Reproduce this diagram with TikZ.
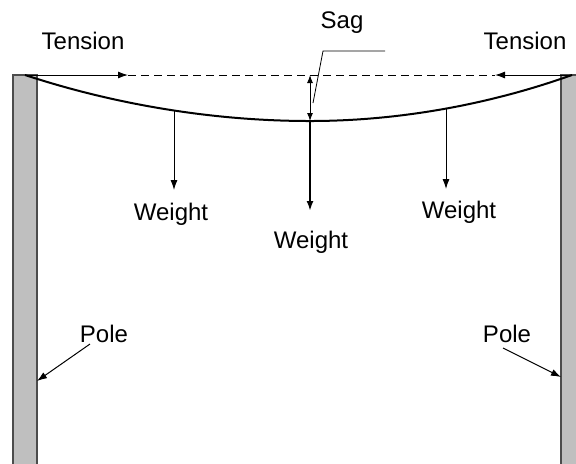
\documentclass[tikz,border=0pt]{standalone}
\usepackage{fontspec}
\setmainfont{Liberation Sans}
\usepackage{tikz}
\usetikzlibrary{arrows.meta}
\tikzset{
    >={Latex[length=5pt,width=3.5pt]}, % filled arrow heads
    pole/.style={fill=black!25, draw=black!70, line width=0.6pt}, % the two poles
    cable/.style={line width=1pt}, % the hanging conductor
    force/.style={->, line width=0.5pt}, % thin arrows
    label/.style={inner sep=0pt, anchor=base, font=\fontsize{12}{14}\selectfont}, % texts
}
\begin{document}
\begin{tikzpicture}[x=0.5pt, y=-0.5pt]
    \clip (0,0) rectangle (576,463);
    \fill[white] (0,0) rectangle (576,463);

    % poles
    \fill[black!25] (13,75) rectangle (37,470);
    \draw[black!70, line width=0.6pt] (13,470) -- (13,75) -- (37,75) -- (37,470);
    \fill[black!25] (561,75) rectangle (590,470);
    \draw[black!70, line width=0.6pt] (561,470) -- (561,75) -- (590,75);

    % points on the cable
    \coordinate (endL) at (25,75);
    \coordinate (endR) at (572,75);
    \coordinate (low) at (310,121);
    \coordinate (lowW) at (174,110.8);
    \coordinate (rightW) at (446,108.8);
    \coordinate (tipL) at (128,75);
    \coordinate (tipR) at (495,75);
    \coordinate (level) at (310,75);

    % cable
    \draw[cable] (endL) parabola bend (low) (endR);

    % tension
    \draw[dashed, dash pattern=on 4pt off 2.5pt, line width=0.4pt] (tipL) -- (tipR);
    \draw[force] (endL) -- (tipL);
    \draw[force] (endR) -- (tipR);
    \node[label] (tensionL) at (83,49) {Tension};
    \node[label] (tensionR) at (525,49) {Tension};

    % sag
    \draw[<->, >={Latex[length=4pt,width=3pt]}, line width=0.5pt] (level) -- (low);
    \node[label] (sag) at (342,28) {Sag};
    \coordinate (sagA) at (313,103);
    \coordinate (sagB) at (323,51);
    \coordinate (sagC) at (385,51);
    \draw[line width=0.4pt] (sagA) -- (sagB) -- (sagC);

    % weights
    \coordinate (lowWend) at (174,190);
    \coordinate (rightWend) at (446,189);
    \coordinate (midWend) at (310,211);
    \draw[force] (lowW) -- (lowWend);
    \draw[force] (rightW) -- (rightWend);
    \draw[force, line width=1pt] (low) -- (midWend);
    \node[label] (weightL) at (171,220) {Weight};
    \node[label] (weightM) at (311,248) {Weight};
    \node[label] (weightR) at (459,218) {Weight};

    % pole labels
    \node[label] (poleL) at (104,342) {Pole};
    \node[label] (poleR) at (507,342) {Pole};
    \coordinate (poleLfrom) at (90,344);
    \coordinate (poleLto) at (37,381);
    \coordinate (poleRfrom) at (503,348);
    \coordinate (poleRto) at (561,377);
    \draw[force] (poleLfrom) -- (poleLto);
    \draw[force] (poleRfrom) -- (poleRto);
\end{tikzpicture}
\end{document}
